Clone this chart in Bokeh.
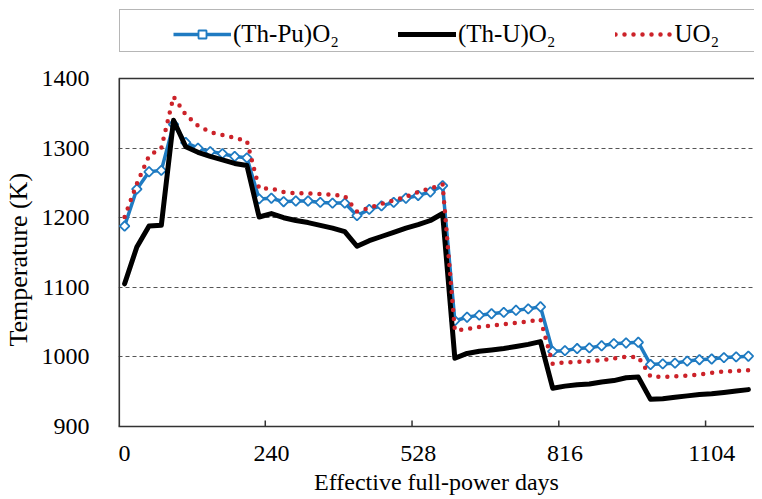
from bokeh.plotting import figure
from bokeh.models import FixedTicker, Legend, LegendItem, ColumnDataSource
from bokeh.embed import file_html
from bokeh.resources import INLINE

# ---------------- data ----------------
steps = list(range(52))                      # category index of each burnup step
x_tick_steps = [0, 12, 24, 36, 48]
x_tick_labels = ["0", "240", "528", "816", "1104"]
x_tick_marks = [11.5, 23.5, 35.5, 47.5]       # tick marks sit between categories
y_ticks = [900, 1000, 1100, 1200, 1300, 1400]
y_grid = [1000, 1100, 1200, 1300]
y_min, y_max = 900, 1400

th_pu = [1188, 1241, 1266, 1268, 1334, 1308, 1300, 1295, 1292, 1288, 1286,
         1227, 1228, 1223, 1224, 1224, 1222, 1221, 1221, 1203, 1212, 1217,
         1222, 1228, 1232, 1237, 1246,
         1052, 1057, 1060, 1062, 1064, 1067, 1069, 1072,
         1008, 1009, 1012, 1013, 1016, 1019, 1020, 1021,
         989, 990, 991, 994, 996, 997, 999, 1000, 1001]

th_u = [1105, 1158, 1188, 1189, 1340, 1302, 1294, 1288, 1283, 1278, 1275,
        1201, 1206, 1200, 1196, 1193, 1189, 1185, 1180, 1159, 1167, 1173,
        1179, 1185, 1190, 1196, 1206,
        998, 1005, 1008, 1010, 1012, 1015, 1018, 1022,
        955, 958, 960, 961, 964, 966, 970, 971,
        939, 940, 942, 944, 946, 947, 949, 951, 953]

uo2 = [1201, 1249, 1289, 1300, 1374, 1348, 1332, 1323, 1319, 1315, 1310,
       1242, 1242, 1237, 1235, 1235, 1234, 1233, 1231, 1209, 1214, 1220,
       1225, 1230, 1237, 1242, 1248,
       1038, 1040, 1043, 1045, 1047, 1049, 1051, 1054,
       990, 992, 993, 994, 995, 998, 1000, 1000,
       972, 971, 972, 973, 975, 977, 979, 980, 981]

names = ["(Th-Pu)O\u2082", "(Th-U)O\u2082", "UO\u2082"]

# ---------------- styling ----------------
FONT = "Liberation Serif"
BLUE = "#1F7BC2"
RED = "#CC2229"
BLACK = "#000000"
FRAME = "#333333"

x_lo, x_hi = -0.5, 51.5
# the frame reaches up to hold the legend box; the plotting area ends at 1400
y_top = 1500.6

src = ColumnDataSource(dict(x=steps, pu=th_pu, u=th_u, uo=uo2))

p = figure(width=754, height=497, output_backend="svg", toolbar_location=None,
           x_range=(x_lo, x_hi), y_range=(y_min, y_top),
           min_border_left=107, min_border_right=0, min_border_top=8,
           min_border_bottom=71)
p.background_fill_color = "white"
p.border_fill_color = "white"
p.outline_line_color = None

# axes
p.xaxis.ticker = FixedTicker(ticks=x_tick_steps)
p.xaxis.major_label_overrides = {s: l for s, l in zip(x_tick_steps, x_tick_labels)}
p.xaxis.major_tick_line_color = None
p.xaxis.minor_tick_line_color = None
p.xaxis.major_label_standoff = 13
p.xaxis.axis_label = "Effective full-power days"
p.xaxis.axis_label_standoff = 5
p.xaxis.axis_line_color = FRAME
p.xaxis.axis_line_width = 1.6

p.yaxis.ticker = FixedTicker(ticks=y_ticks)
p.yaxis.major_tick_line_color = None
p.yaxis.minor_tick_line_color = None
p.yaxis.major_label_standoff = 23
p.yaxis.axis_label = "Temperature (K)" + "\u00a0" * 13
p.yaxis.axis_label_standoff = 6
p.yaxis.axis_line_color = None

for ax in (p.xaxis, p.yaxis):
    ax.major_label_text_font = FONT
    ax.major_label_text_font_size = "24px"
    ax.major_label_text_color = "black"
    ax.axis_label_text_font = FONT
    ax.axis_label_text_font_style = "normal"
    ax.axis_label_text_color = "black"
p.xaxis.axis_label_text_font_size = "24px"
p.yaxis.axis_label_text_font_size = "26px"

p.xgrid.grid_line_color = None
p.ygrid.ticker = FixedTicker(ticks=y_grid)
p.ygrid.grid_line_color = "#555555"
p.ygrid.grid_line_width = 1
p.ygrid.grid_line_dash = "4 3"

# plot-area border: left side and top side
p.segment(x0=[x_lo, x_lo], y0=[y_min, y_max], x1=[x_lo, x_hi], y1=[y_max, y_max],
          line_color=FRAME, line_width=[3.2, 1.6])

# inward tick marks between categories
p.segment(x0=x_tick_marks, y0=[y_min] * len(x_tick_marks),
          x1=x_tick_marks, y1=[y_min + 8.5] * len(x_tick_marks),
          line_color=FRAME, line_width=1.5)

# series
r_pu_line = p.line("x", "pu", source=src, line_color=BLUE, line_width=3.5,
                   line_join="round")
r_pu_mark = p.scatter("x", "pu", source=src, marker="square", angle=0.785398,
                      size=6.8, line_color=BLUE, line_width=1.8,
                      fill_color="white")
r_u = p.line("x", "u", source=src, line_color=BLACK, line_width=5,
             line_join="round", line_cap="round")
r_uo = p.line("x", "uo", source=src, line_color=RED, line_width=4.5,
              line_dash="0 9", line_cap="round")

# legend frame (box only)
r_dummy = p.line(x=[], y=[], line_alpha=0)
leg_box = Legend(items=[LegendItem(label="\u2003" * 30, renderers=[r_dummy])],
                 location=(1, 374), orientation="horizontal",
                 padding=2, margin=0, label_height=37, glyph_height=20,
                 glyph_width=58, label_standoff=0,
                 border_line_color="#6E6E6E", border_line_width=1.4,
                 background_fill_color="white", background_fill_alpha=1,
                 label_text_font=FONT, label_text_font_size="24px")
p.add_layout(leg_box)

leg = Legend(items=[LegendItem(label=names[0], renderers=[r_pu_line, r_pu_mark]),
                    LegendItem(label=names[1], renderers=[r_u]),
                    LegendItem(label=names[2], renderers=[r_uo])],
             location=(55, 374), orientation="horizontal",
             padding=2, margin=0, label_height=37, glyph_height=20,
             glyph_width=58, label_standoff=2, spacing=59,
             border_line_color=None, background_fill_alpha=0,
             label_text_font=FONT, label_text_font_size="25px",
             label_text_color="black")
p.add_layout(leg)

open("out.html", "w").write(file_html(p, INLINE))
